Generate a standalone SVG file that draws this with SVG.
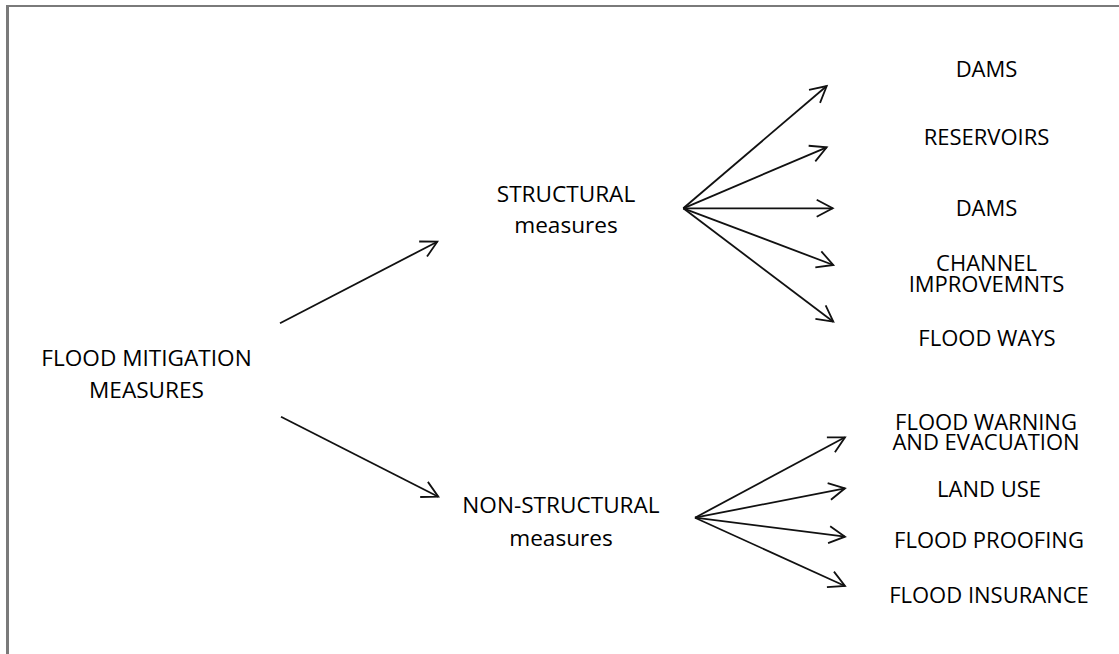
<svg xmlns="http://www.w3.org/2000/svg" width="1119" height="654" viewBox="0 0 1119 654">
<defs>
<style>
text{font-family:"Open Sans","Noto Sans","Liberation Sans",sans-serif;fill:#000;text-anchor:middle}
.m{font-size:22.6px}
.r{font-size:22px}
.c{stroke:#111;stroke-width:1.8;fill:none;marker-end:url(#ah)}
.b{stroke:#7a7a7a;fill:none}
</style>
<marker id="ah" markerUnits="userSpaceOnUse" viewBox="-20 -12 24 24" markerWidth="24" markerHeight="24" refX="0" refY="0" orient="auto" overflow="visible">
<path d="M-16,-8.5 L0,0 L-16,8.5" fill="none" stroke="#111" stroke-width="1.8"/>
</marker>
</defs>
<rect x="0" y="0" width="1119" height="654" fill="#fff"/>
<line class="b" x1="6" y1="6" x2="1119" y2="6" stroke-width="2"/>
<line class="b" x1="7.5" y1="5" x2="7.5" y2="654" stroke-width="3"/>
<g id="connectors">
<line class="c" x1="280" y1="323.3" x2="437.3" y2="241.7"/>
<line class="c" x1="281" y1="416.7" x2="438.3" y2="496.7"/>
<line class="c" x1="683.3" y1="208.3" x2="826.7" y2="86"/>
<line class="c" x1="683.3" y1="208.3" x2="826.7" y2="147.3"/>
<line class="c" x1="683.3" y1="208.3" x2="832.7" y2="208.3"/>
<line class="c" x1="683.3" y1="208.3" x2="833.3" y2="265"/>
<line class="c" x1="683.3" y1="208.3" x2="833.3" y2="321.7"/>
<line class="c" x1="695" y1="517.7" x2="845" y2="437.3"/>
<line class="c" x1="695" y1="517.7" x2="845" y2="488.3"/>
<line class="c" x1="695" y1="517.7" x2="845" y2="536.7"/>
<line class="c" x1="695" y1="517.7" x2="845" y2="586"/>
</g>
<g id="root"><text class="m" x="146.5" y="366">FLOOD MITIGATION</text><text class="m" x="146.5" y="398">MEASURES</text></g>
<g id="structural"><text class="m" x="566" y="202">STRUCTURAL</text><text class="m" x="566" y="233">measures</text></g>
<g id="nonstructural"><text class="m" x="561" y="513">NON-STRUCTURAL</text><text class="m" x="561" y="546">measures</text></g>
<g id="dams1"><text class="r" x="986.5" y="77">DAMS</text></g>
<g id="reservoirs"><text class="r" x="986.5" y="145">RESERVOIRS</text></g>
<g id="dams2"><text class="r" x="986.5" y="216">DAMS</text></g>
<g id="channel"><text class="r" x="986.5" y="271">CHANNEL</text><text class="r" x="986.5" y="292">IMPROVEMNTS</text></g>
<g id="floodways"><text class="r" x="987" y="346">FLOOD WAYS</text></g>
<g id="warning"><text class="r" x="986" y="430">FLOOD WARNING</text><text class="r" x="986" y="450">AND EVACUATION</text></g>
<g id="landuse"><text class="r" x="989" y="497">LAND USE</text></g>
<g id="proofing"><text class="r" x="989" y="548">FLOOD PROOFING</text></g>
<g id="insurance"><text class="r" x="989" y="603">FLOOD INSURANCE</text></g>
</svg>
